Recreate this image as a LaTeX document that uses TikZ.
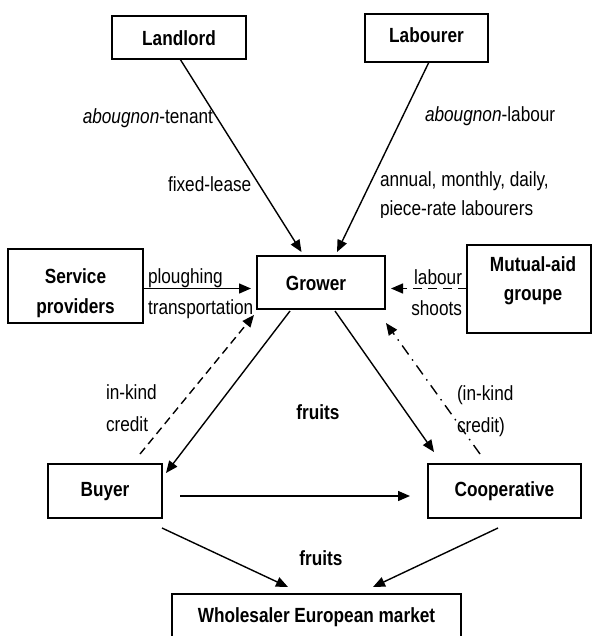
\documentclass[tikz,border=0pt]{standalone}
\usepackage{fontspec}
\setmainfont{Liberation Sans}[FakeStretch=0.84]
\usetikzlibrary{arrows.meta}
\newcommand\stackC[3]{\vbox{\baselineskip=#1\relax\halign{\hfil##\hfil\cr#2\cr#3\cr}}}
\newcommand\stackL[3]{\vbox{\baselineskip=#1\relax\halign{##\hfil\cr#2\cr#3\cr}}}
\newcommand\stackR[3]{\vbox{\baselineskip=#1\relax\halign{\hfil##\cr#2\cr#3\cr}}}
\tikzset{
  every node/.style={font=\fontsize{20.5}{24}\selectfont, inner sep=0pt, outer sep=0pt},
  box/.style={draw, line width=1.5pt, anchor=base, font=\fontsize{20.5}{24}\selectfont\bfseries},
  arr/.style={line width=1.4pt, -{Triangle[length=12pt,width=10pt]}},
  dsh/.style={arr, dash pattern=on 8pt off 5pt},
  dshb/.style={arr, dash pattern=on 9pt off 6pt},
  dshdot/.style={arr, dash pattern=on 11pt off 6pt on 1.5pt off 6pt},
}
\begin{document}
\begin{tikzpicture}[x=1pt,y=-1pt]
\useasboundingbox (0,0) rectangle (592,636);
% boxes
\node[box, minimum width=134pt, text height=30pt, text depth=13pt] (landlord) at (179,46) {Landlord};
\node[box, minimum width=123pt, text height=29pt, text depth=19pt] (labourer) at (426.5,43) {Labourer};
\node[box, minimum width=128pt, text height=34pt, text depth=19pt] (grower) at (321,290) {Grower\hspace*{10pt}};
\node[box, minimum width=135pt, text height=64pt, text depth=10pt] (service) at (75.5,313) {\stackC{30pt}{Service}{providers}};
\node[box, minimum width=124pt, text height=55pt, text depth=33pt] (mutual) at (529,300) {\hspace*{8pt}\stackC{29pt}{Mutual-aid}{groupe}};
\node[box, minimum width=114pt, text height=32pt, text depth=22pt] (buyer) at (105,496) {Buyer};
\node[box, minimum width=153pt, text height=32pt, text depth=22pt] (coop) at (504.5,496) {Cooperative};
\node[box, minimum width=289pt, text height=28pt, text depth=18pt] (whole) at (316.5,622) {Wholesaler European market};
% connectors
\draw[arr] ([xshift=1pt]landlord.south) -- ([xshift=-19.5pt,yshift=4pt]grower.north);
\draw[arr] ([xshift=2.5pt]labourer.south) -- ([xshift=16pt,yshift=4pt]grower.north);
\draw[arr] ([yshift=-2.5pt]service.east) -- ([xshift=-6pt,yshift=-6pt]grower.west);
\draw[dshb] ([yshift=0.5pt]mutual.west) -- ([xshift=6pt,yshift=-6pt]grower.east);
\draw[arr] ([xshift=-31pt,yshift=-2pt]grower.south) -- ([xshift=4pt,yshift=-9pt]buyer.north east);
\draw[dsh] ([xshift=35pt,yshift=10pt]buyer.north) -- ([xshift=-3pt,yshift=-6pt]grower.south west);
\draw[arr] ([xshift=14pt,yshift=-2pt]grower.south) -- ([xshift=6pt,yshift=12pt]coop.north west);
\draw[dshdot] ([xshift=-24.5pt,yshift=10pt]coop.north) -- ([xshift=1pt,yshift=-14pt]grower.south east);
\draw[arr] ([xshift=18pt,yshift=-5pt]buyer.east) -- ([xshift=-18pt,yshift=-5pt]coop.west);
\draw[arr] ([yshift=-10pt]buyer.south east) -- ([xshift=-28.5pt,yshift=7pt]whole.north);
\draw[arr] ([xshift=-6.5pt,yshift=-10pt]coop.south) -- ([xshift=56.5pt,yshift=7pt]whole.north);
% labels
\node[anchor=base east] (ltenant) at (213,124) {\textit{abougnon}-tenant};
\node[anchor=base west] (lfixed) at (168,192) {fixed-lease};
\node[anchor=base west] (llabour) at (425,122) {\textit{abougnon}-labour};
\node[anchor=base west] (lannual) at (380,187) {annual, monthly, daily,};
\begin{scope}
\clip (370,150) rectangle (600,217.5);
\node[anchor=base west] (lpiece) at (380,215) {piece-rate labourers};
\end{scope}
\node[anchor=base west] (lplough) at (148,314.5) {\stackL{31pt}{ploughing}{transportation}};
\node[anchor=base east] (lshoots) at (462,315) {\stackR{31pt}{labour}{shoots}};
\node[anchor=base west] (lcredit) at (106,431.5) {\stackL{32pt}{in-kind}{credit}};
\node[anchor=base west] (lcredit2) at (457,432) {\stackL{32pt}{(in-kind}{credit)}};
\node[anchor=base, font=\fontsize{20.5}{24}\selectfont\bfseries] (lfruits1) at (318,419.5) {fruits};
\node[anchor=base, font=\fontsize{20.5}{24}\selectfont\bfseries] (lfruits2) at (321,565) {fruits};
\end{tikzpicture}
\end{document}
